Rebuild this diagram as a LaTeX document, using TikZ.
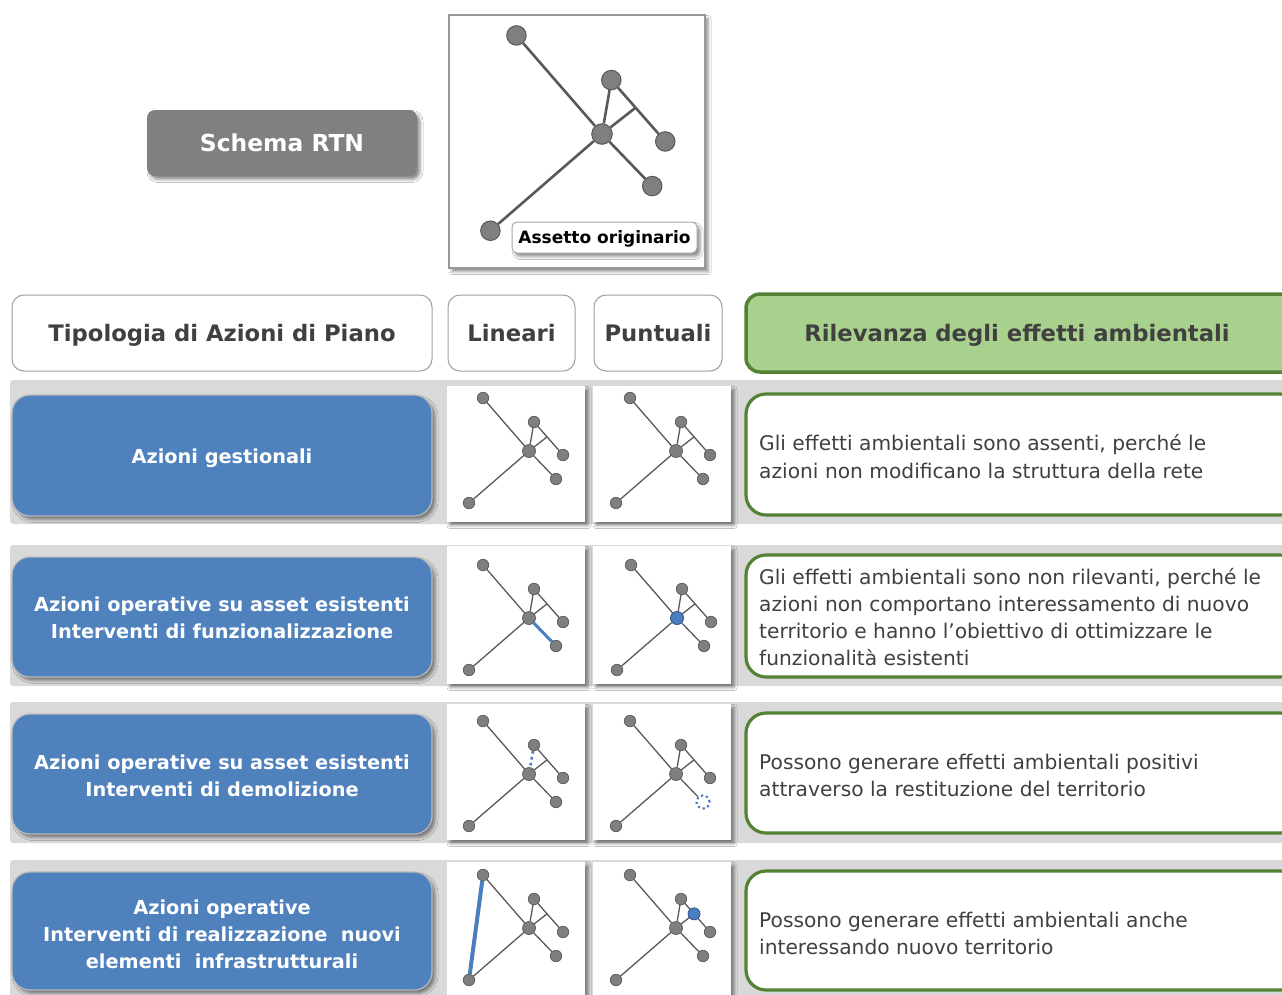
\documentclass[tikz,border=0pt]{standalone}
\usepackage{fontspec}
\setmainfont{DejaVu Sans}
\usetikzlibrary{shadows.blur,calc}

\definecolor{bandgray}{HTML}{D9D9D9}
\definecolor{boxblue}{HTML}{4F81BD}
\definecolor{hlblue}{HTML}{4A7EBF}
\definecolor{hldark}{HTML}{2F5597}
\definecolor{leafgreen}{HTML}{A9D18E}
\definecolor{darkgreen}{HTML}{548235}
\definecolor{txt}{HTML}{404040}
\definecolor{ndfill}{HTML}{7F7F7F}
\definecolor{ndline}{HTML}{595959}
\definecolor{rtngray}{HTML}{808080}

\tikzset{
  softshadow/.style={blur shadow={shadow xshift=3pt, shadow yshift=-3.5pt,
      shadow blur radius=3pt, shadow opacity=45}},
  band/.style={fill=bandgray, draw=none},
  headfont/.style={font=\bfseries\fontsize{22.7}{26}\selectfont, text height=16.6pt, text depth=0pt},
  headbox/.style={rounded corners=12pt, draw=gray!75, line width=1pt, fill=white,
      text=txt, headfont, inner sep=0pt},
  greenhead/.style={rounded corners=14pt, draw=darkgreen, line width=3.5pt, fill=leafgreen, inner sep=0pt},
  actbox/.style={rounded corners=18pt, fill=boxblue, draw=gray!55, line width=1.2pt,
      softshadow, inner sep=0pt},
  acttext/.style={text=white, font=\bfseries\fontsize{19.3}{27}\selectfont, align=center, inner sep=0pt},
  panel/.style={fill=white, draw=none, softshadow, inner sep=0pt},
  effbox/.style={rounded corners=20pt, fill=white, draw=darkgreen, line width=3.2pt, inner sep=0pt},
  efftext/.style={anchor=west, align=left, text=txt, font=\fontsize{20.2}{27.2}\selectfont, inner sep=0pt},
  % network drawing
  nd/.style={circle, fill=ndfill, draw=ndline, line width=0.7pt, minimum size=11.5pt, inner sep=0pt},
  ncen/.style={minimum size=13pt},
  ed/.style={draw=ndline, line width=1.3pt},
  hl/.style={draw=hlblue, line width=3pt},
  hlnode/.style={circle, fill=hlblue, draw=hldark, line width=0.8pt, minimum size=12pt, inner sep=0pt},
  nA/.style={}, nB/.style={}, nC/.style={}, nD/.style={}, nE/.style={}, nF/.style={},
  eAC/.style={}, eFC/.style={}, eCE/.style={}, eBC/.style={}, eBD/.style={}, eCJ/.style={},
}

% #1 name prefix, #2 x and #3 y of the hub node, #4 scale, #5 scope options
\newcommand\netw[5]{%
  \begin{scope}[#5]
    \node[nd,ncen,nC] (#1c) at (#2,#3) {};
    \node[nd,nA] (#1a) at ($(#2,#3)+(-46*#4,-53*#4)$) {};
    \node[nd,nB] (#1b) at ($(#2,#3)+(5*#4,-29*#4)$) {};
    \node[nd,nD] (#1d) at ($(#2,#3)+(34*#4,4*#4)$) {};
    \node[nd,nE] (#1e) at ($(#2,#3)+(27*#4,28*#4)$) {};
    \node[nd,nF] (#1f) at ($(#2,#3)+(-60*#4,52*#4)$) {};
    \coordinate (#1j) at ($(#1b)!0.45!(#1d)$);
    \draw[ed,eAC] (#1a) -- (#1c);
    \draw[ed,eFC] (#1f) -- (#1c);
    \draw[ed,eCE] (#1c) -- (#1e);
    \draw[ed,eBC] (#1b) -- (#1c);
    \draw[ed,eBD] (#1b) -- (#1d);
    \draw[ed,eCJ] (#1c) -- (#1j);
  \end{scope}}

\begin{document}
\begin{tikzpicture}[x=1pt,y=-1pt]
\path[use as bounding box] (0,0) rectangle (1282,994);
\clip (0,0) rectangle (1282,994);
\fill[white] (0,0) rectangle (1282,994);

% ---- top: network scheme ----
\node[rounded corners=8pt, fill=rtngray, softshadow, minimum width=270pt, minimum height=66pt,
      text=white, font=\bfseries\fontsize{23.4}{27}\selectfont, text height=17pt, text depth=0pt,
      inner sep=0pt] (rtn) at (282,143) {Schema RTN};
\node[fill=white, draw=gray!80, line width=1.2pt, softshadow, minimum width=256pt,
      minimum height=253pt, inner sep=0pt] (orig) at (577,141.5) {};
\netw{T}{602}{134}{1.86}{nd/.append style={minimum size=19.5pt, line width=1pt},
      ncen/.style={minimum size=20.5pt}, ed/.append style={line width=2.6pt}}
\node[rounded corners=5pt, fill=white, draw=gray!70, line width=1pt, softshadow,
      minimum width=185pt, minimum height=31pt, inner sep=0pt,
      font=\bfseries\fontsize{17}{20}\selectfont, text height=12.4pt, text depth=0pt,
      text=black] (origlabel) at (604.5,237.5) {Assetto originario};

% ---- header row ----
\node[headbox, minimum width=420pt, minimum height=76pt] (h1) at (222,333) {Tipologia di Azioni di Piano};
\node[headbox, minimum width=127pt, minimum height=76pt] (h2) at (511.5,333) {Lineari};
\node[headbox, minimum width=128pt, minimum height=76pt] (h3) at (658,333) {Puntuali};
\node[greenhead, minimum width=554pt, minimum height=78pt] (h4) at (1023,333) {};
\node[text=txt, headfont, inner sep=0pt] (h4t) at (1017,333) {Rilevanza degli effetti ambientali};

% ---- row bands ----
\fill[band, rounded corners=3pt] (10,380) rectangle (1300,524);
\fill[band, rounded corners=3pt] (10,545) rectangle (1300,686);
\fill[band, rounded corners=3pt] (10,702) rectangle (1300,843);
\fill[band, rounded corners=3pt] (10,860) rectangle (1300,1010);

% ---- action type boxes ----
\node[actbox, minimum width=420pt, minimum height=121pt] (a1) at (222,455.5) {};
\node[acttext] (a1t) at (222,458.5) {Azioni gestionali};
\node[actbox, minimum width=420pt, minimum height=120pt] (a2) at (222,617) {};
\node[acttext] (a2t) at (222,618)
  {Azioni operative su asset esistenti\\Interventi di funzionalizzazione};
\node[actbox, minimum width=420pt, minimum height=120pt] (a3) at (222,774) {};
\node[acttext] (a3t) at (222,776)
  {Azioni operative su asset esistenti\\Interventi di demolizione};
\node[actbox, minimum width=420pt, minimum height=118pt] (a4) at (222,931) {};
\node[acttext] (a4t) at (222,934)
  {Azioni operative\\Interventi di realizzazione\ \ nuovi\\elementi\ \ infrastrutturali};

% ---- panels ----
\node[panel, minimum width=138pt, minimum height=136pt] (p1l) at (516,454) {};
\node[panel, minimum width=138pt, minimum height=136pt] (p1r) at (662,454) {};
\node[panel, minimum width=138pt, minimum height=138pt] (p2l) at (516,615) {};
\node[panel, minimum width=138pt, minimum height=138pt] (p2r) at (662,615) {};
\node[panel, minimum width=138pt, minimum height=136pt] (p3l) at (516,772) {};
\node[panel, minimum width=138pt, minimum height=136pt] (p3r) at (662,772) {};
\node[panel, minimum width=138pt, minimum height=140pt] (p4l) at (516,932) {};
\node[panel, minimum width=138pt, minimum height=140pt] (p4r) at (662,932) {};

% row 1: management actions, network unchanged
\netw{La}{529}{451}{1}{}
\netw{Ra}{676}{451}{1}{}
% row 2: functional upgrades
\netw{Lb}{529}{618}{1}{eCE/.style={hl}}
\netw{Rb}{677}{618}{1}{nC/.style={fill=hlblue, draw=hldark, line width=0.9pt}}
% row 3: demolitions
\netw{Lc}{529}{774}{1}{eBC/.style={draw=hlblue, line width=2.6pt, dash pattern=on 2.6pt off 3.4pt}}
\netw{Rc}{676}{774}{1}{nE/.style={fill=white, draw=hlblue, line width=2.2pt, minimum size=13pt,
      dash pattern=on 2.2pt off 2.8pt}}
% row 4: new infrastructure
\netw{Ld}{529}{928}{1}{}
\draw[hl, line width=4pt] (Lda) -- (Ldf);
\netw{Rd}{676}{928}{1}{}
\node[hlnode] (Rdn) at (Rdj) {};

% ---- environmental relevance boxes ----
\node[effbox, minimum width=554pt, minimum height=121pt] (e1) at (1023,454.5) {};
\node[efftext] (e1t) at (759,456.5)
  {Gli effetti ambientali sono assenti, perché le\\azioni non modificano la struttura della rete};
\node[effbox, minimum width=554pt, minimum height=122pt] (e2) at (1023,616) {};
\node[efftext] (e2t) at (759,617)
  {Gli effetti ambientali sono non rilevanti, perché le\\azioni non comportano interessamento di nuovo\\territorio e hanno l’obiettivo di ottimizzare le\\funzionalità esistenti};
\node[effbox, minimum width=554pt, minimum height=120pt] (e3) at (1023,773) {};
\node[efftext] (e3t) at (759,775.5)
  {Possono generare effetti ambientali positivi\\attraverso la restituzione del territorio};
\node[effbox, minimum width=554pt, minimum height=119pt] (e4) at (1023,930.5) {};
\node[efftext] (e4t) at (759,933.5)
  {Possono generare effetti ambientali anche\\interessando nuovo territorio};
\end{tikzpicture}
\end{document}
